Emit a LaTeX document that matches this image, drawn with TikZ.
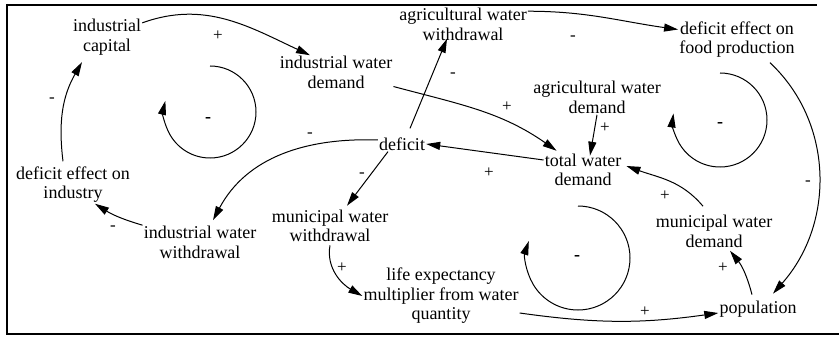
\documentclass[tikz,border=0pt]{standalone}
\usepackage{fontspec}
\setmainfont{Liberation Serif}
\usetikzlibrary{arrows.meta}
\begin{document}
\begin{tikzpicture}[x=1pt,y=1pt,
  lbl/.style={align=center,inner sep=1pt,font=\fontsize{18}{19.5}\selectfont},
  sgn/.style={inner sep=0pt,font=\fontsize{17}{17}\selectfont},
  lsgn/.style={inner sep=0pt,font=\bfseries\fontsize{18}{18}\selectfont},
  link/.style={line width=1pt,-{Triangle[length=14pt,width=8pt]}},
  frameline/.style={line width=1.5pt}]
\useasboundingbox (0,0) rectangle (839,338);
% frame
\coordinate (fTL) at (7,334);
\coordinate (fBL) at (7,4);
\coordinate (fBR) at (839,4);
\coordinate (fT1) at (7,333);
\coordinate (fT2) at (817,333);
\draw[frameline] (fTL) -- (fBL) -- (fBR);
\draw[frameline] (fT1) -- (fT2);
% nodes
\node[lbl] (ic)  at (107,301)   {industrial\\capital};
\node[lbl] (iwd) at (336,265.5) {industrial water\\demand};
\node[lbl] (aww) at (463,313.5) {agricultural water\\withdrawal};
\node[lbl] (dfp) at (737,298.5) {deficit effect on\\food production};
\node[lbl] (awd) at (597,240.5) {agricultural water\\demand};
\node[lbl] (def) at (402,194)   {deficit};
\node[lbl] (twd) at (583,168)   {total water\\demand};
\node[lbl] (dei) at (73,153.5)  {deficit effect on\\industry};
\node[lbl] (iww) at (200,95.5)  {industrial water\\withdrawal};
\node[lbl] (mww) at (330,112)   {municipal water\\withdrawal};
\node[lbl] (mwd) at (714,106.5) {municipal water\\demand};
\node[lbl] (le)  at (441,42)    {life expectancy\\multiplier from water\\quantity};
\node[lbl] (pop) at (758,29)    {population};
% links
\draw[link] ([yshift=-5]ic.north east) to[out=20,in=155] ([xshift=-26]iwd.north);
\node[sgn] (s1) at (218,302) {+};
\draw[link] ([yshift=-14]iwd.east) to[out=-15,in=145] ([xshift=13,yshift=2]twd.north west);
\node[sgn] (s2) at (507,231) {+};
\draw[link] ([xshift=8,yshift=8]def.north) -- ([xshift=-16,yshift=3]aww.south);
\node[sgn] (s3) at (453,263) {-};
\draw[link] ([yshift=-4]aww.north east) to[out=0,in=172] ([yshift=10]dfp.west);
\node[sgn] (s4) at (573,300) {-};
\draw[link] (awd.south) -- ([xshift=7,yshift=-3]twd.north);
\node[sgn] (s5) at (605,210) {+};
\draw[link] ([yshift=10]twd.west) -- (def.east);
\node[sgn] (s6) at (489,165) {+};
\draw[link] ([yshift=4]def.west) to[out=178,in=62] ([xshift=13,yshift=5]iww.north);
\node[sgn] (s7) at (310,203) {-};
\draw[link] ([xshift=-14]def.south) -- ([xshift=17,yshift=3]mww.north);
\node[sgn] (s8) at (362,163) {-};
\draw[link] (iww.north west) to[bend left=8] ([xshift=22]dei.south);
\node[sgn] (s9) at (113,110) {-};
\draw[link] ([xshift=-10,yshift=4]dei.north) to[out=97,in=-120] ([xshift=-25,yshift=-6]ic.south);
\node[sgn] (s10) at (52,238) {-};
\draw[link] ([yshift=-2]mww.south) to[out=-100,in=150] (le.west);
\node[sgn] (s11) at (342,70) {+};
\draw[link] ([yshift=-17]le.east) to[out=-8,in=188] ([yshift=-4]pop.west);
\node[sgn] (s12) at (645,26) {+};
\draw[link] ([xshift=-6,yshift=5]pop.north) to[bend right=12] ([xshift=16,yshift=-2]mwd.south);
\node[sgn] (s13) at (723,70) {+};
\draw[link] ([xshift=-11,yshift=8]mwd.north) to[out=130,in=-20] ([xshift=4,yshift=4]twd.east);
\node[sgn] (s14) at (665,142) {+};
\draw[link] ([xshift=33,yshift=-4]dfp.south) .. controls +(64,-60) and +(62,70) .. ([xshift=15,yshift=6]pop.north);
\node[sgn] (s15) at (808,155) {-};
% loops
\coordinate (loopL) at (210,226);
\coordinate (loopR) at (720,218);
\coordinate (loopB) at (578,80);
\draw[link] ([shift={(90:46)}]loopL) arc[start angle=90,end angle=-194,radius=46];
\node[lsgn] (lL) at (208,218) {-};
\draw[link] ([shift={(90:47)}]loopR) arc[start angle=90,end angle=-188,radius=47];
\node[lsgn] (lR) at (720,213) {-};
\draw[link] ([shift={(90:52)}]loopB) arc[start angle=90,end angle=-199,radius=52];
\node[lsgn] (lB) at (577,80) {-};
\end{tikzpicture}
\end{document}
